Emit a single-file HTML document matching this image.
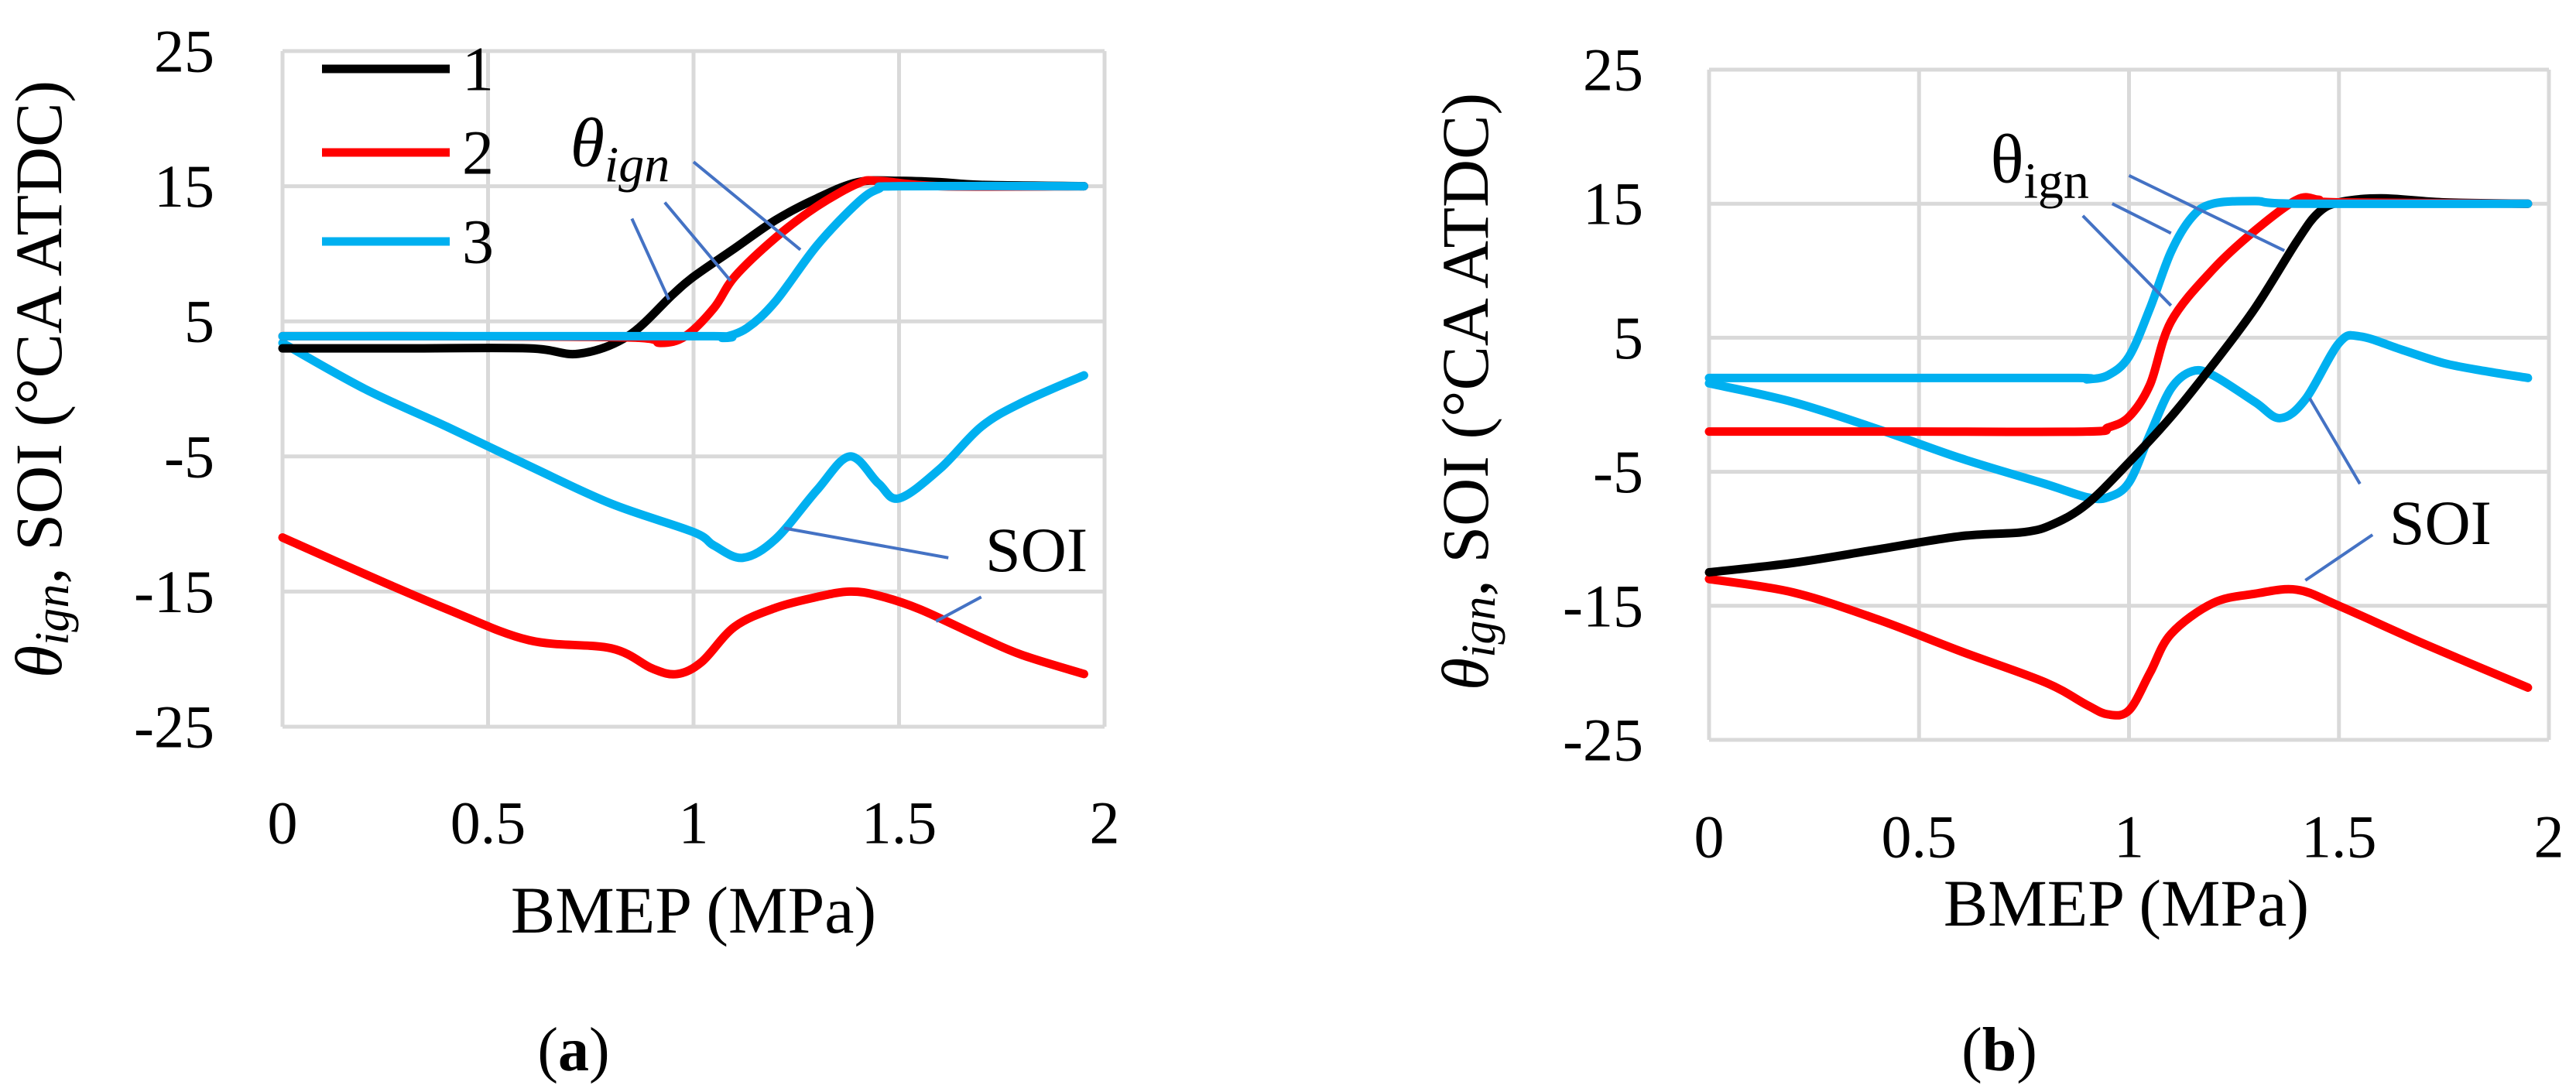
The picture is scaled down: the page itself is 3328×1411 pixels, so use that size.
<!DOCTYPE html>
<html><head><meta charset="utf-8">
<style>
html,body{margin:0;padding:0;background:#fff;}
svg{display:block;font-family:"Liberation Serif",serif;}
</style></head>
<body>
<svg id="fig" width="3328" height="1411" viewBox="0 0 3328 1411" xmlns="http://www.w3.org/2000/svg"></svg>
<script>
// ---------- data: panel (a) ----------
const aIgn1X=[0,0.3,0.6,0.72,0.84,0.95,1.0,1.1,1.2,1.3,1.4,1.5,1.6,1.7,1.95];
const aIgn1Y=[3,3,3,2.6,3.9,7,8.3,10.4,12.5,14.1,15.3,15.4,15.3,15.1,15];
const aIgn2X=[0,0.4,0.85,0.92,0.98,1.05,1.1,1.2,1.3,1.4,1.45,1.6,1.95];
const aIgn2Y=[3.9,3.9,3.8,3.4,3.9,6,8.3,11.2,13.5,15.2,15.4,15,15];
const aIgn3X=[0,0.5,1.05,1.07,1.13,1.2,1.3,1.4,1.45,1.5,1.95];
const aIgn3Y=[3.9,3.9,3.9,3.8,4.5,6.5,10.6,13.8,14.8,15,15];
const aSoi3X=[0,0.2,0.4,0.6,0.8,1.0,1.05,1.12,1.2,1.3,1.38,1.45,1.5,1.6,1.7,1.8,1.95];
const aSoi3Y=[3.4,0,-2.8,-5.7,-8.5,-10.6,-11.6,-12.5,-11.1,-7.5,-5,-7,-8.1,-5.9,-2.8,-1,1];
const aSoi2X=[0,0.2,0.4,0.6,0.8,0.9,0.96,1.02,1.1,1.2,1.3,1.38,1.45,1.55,1.7,1.8,1.95];
const aSoi2Y=[-11,-13.7,-16.3,-18.6,-19.2,-20.7,-21.1,-20.2,-17.6,-16.2,-15.4,-15,-15.3,-16.3,-18.4,-19.7,-21.1];
// ---------- data: panel (b) ----------
const bIgn1X=[0,0.2,0.4,0.6,0.75,0.82,0.9,1.0,1.1,1.2,1.3,1.4,1.45,1.5,1.6,1.75,1.95];
const bIgn1Y=[-12.5,-11.8,-10.8,-9.8,-9.5,-8.9,-7.4,-4.3,-0.9,3,7.2,12.2,14.3,15.1,15.4,15.1,15];
const bIgn2X=[0,0.5,0.9,0.95,1.0,1.05,1.1,1.2,1.3,1.4,1.45,1.5,1.95];
const bIgn2Y=[-2,-2,-2,-1.7,-0.9,1.5,6.2,10.1,13,15.3,15.3,15.1,15];
const bIgn3X=[0,0.5,0.88,0.9,0.95,1.0,1.05,1.1,1.15,1.2,1.3,1.4,1.95];
const bIgn3Y=[2,2,2,1.9,2.2,3.6,7.2,11.4,14,15,15.2,15,15];
const bSoi3X=[0,0.2,0.4,0.6,0.8,0.9,0.95,1.0,1.05,1.1,1.15,1.2,1.3,1.36,1.42,1.5,1.55,1.65,1.75,1.85,1.95];
const bSoi3Y=[1.6,0.2,-1.8,-4,-5.9,-6.9,-6.9,-5.8,-2.2,1.2,2.5,2.2,0.2,-1,0.4,4.6,5.1,4.1,3.1,2.5,2];
const bSoi2X=[0,0.2,0.4,0.6,0.8,0.9,0.95,1.0,1.05,1.1,1.2,1.3,1.4,1.5,1.7,1.95];
const bSoi2Y=[-13,-14,-16,-18.4,-20.7,-22.4,-23.1,-22.8,-20,-17.1,-14.8,-14.1,-13.8,-15,-17.8,-21.1];
// ---------- ticks ----------
const xTicks=[0,0.5,1,1.5,2];
const xTickLabels=["0","0.5","1","1.5","2"];
const yTicks=[25,15,5,-5,-15,-25];
const yTickLabels=["25","15","5","-5","-15","-25"];

const NS="http://www.w3.org/2000/svg";
const svg=document.getElementById('fig');
function mk(tag,attrs,parent){const e=document.createElementNS(NS,tag);for(const k in attrs)e.setAttribute(k,attrs[k]);(parent||svg).appendChild(e);return e;}
function smoothPath(pts){
  let d="M"+pts[0][0]+","+pts[0][1];
  for(let i=0;i<pts.length-1;i++){
    const p0=pts[i-1]||pts[i],p1=pts[i],p2=pts[i+1],p3=pts[i+2]||p2;
    const c1x=p1[0]+(p2[0]-p0[0])/6,c1y=p1[1]+(p2[1]-p0[1])/6;
    const c2x=p2[0]-(p3[0]-p1[0])/6,c2y=p2[1]-(p3[1]-p1[1])/6;
    d+=" C"+c1x+","+c1y+" "+c2x+","+c2y+" "+p2[0]+","+p2[1];
  }
  return d;
}
function panel(cfg){
  const g=mk('g',{});
  
  
  const sx=v=>cfg.x0+(cfg.x1-cfg.x0)*v/2;
  const sy=v=>cfg.y0+(cfg.y1-cfg.y0)*(25-v)/50;
  // grid
  xTicks.forEach((t,i)=>{
    const l=mk('line',{x1:sx(t),x2:sx(t),y1:cfg.y0,y2:cfg.y1,stroke:'#d9d9d9','stroke-width':5},g);
    
    
    const tx=mk('text',{x:sx(t),y:cfg.xLabY,'font-size':78,'text-anchor':'middle','dominant-baseline':'central'},g);
    tx.textContent=xTickLabels[i];
    
    
  });
  yTicks.forEach((t,i)=>{
    const l=mk('line',{x1:cfg.x0,x2:cfg.x1,y1:sy(t),y2:sy(t),stroke:'#d9d9d9','stroke-width':5},g);
    
    
    const tx=mk('text',{x:cfg.yLabX,y:sy(t),'font-size':78,'text-anchor':'end','dominant-baseline':'central'},g);
    tx.textContent=yTickLabels[i];
    
    
  });
  // series
  cfg.series.forEach(s=>{
    const pts=s.x.map((v,i)=>[sx(v),sy(s.y[i])]);
    const p=mk('path',{d:smoothPath(pts),fill:'none',stroke:s.c,'stroke-width':11,'stroke-linejoin':'round','stroke-linecap':'round'},g);
    
    
  });
  // annotation leaders (in data units)
  cfg.ann.forEach(a=>{
    const l=mk('line',{x1:sx(a[0]),y1:sy(a[1]),x2:sx(a[2]),y2:sy(a[3]),stroke:'#4472c4','stroke-width':4},g);
    
    
  });
  // axis titles
  const xt=mk('text',{x:cfg.xTitleX,y:cfg.xTitleY,'font-size':86,'text-anchor':'middle','dominant-baseline':'central'},g);
  xt.textContent="BMEP (MPa)";
  
  
  const yt=mk('text',{x:0,y:0,'font-size':86,'text-anchor':'middle','dominant-baseline':'central',transform:`translate(${cfg.yTitleX},${cfg.yTitleY}) rotate(-90)`},g);
  yt.innerHTML='<tspan font-style="italic">θ</tspan><tspan font-style="italic" font-size="62" dy="18">ign</tspan><tspan dy="-18">, SOI (°CA ATDC)</tspan>';
  
  
  const lab=mk('text',{x:cfg.capX,y:cfg.capY,'font-size':80,'text-anchor':'middle','dominant-baseline':'central'},g);
  lab.innerHTML='(<tspan font-weight="bold">'+cfg.cap+'</tspan>)';
  
  
  return {g,sx,sy};
}
const pa=panel({name:'chart-a',x0:365,x1:1427,y0:66,y1:939,yLabX:277,xLabY:1063,xTitleX:896,xTitleY:1176,yTitleX:50,yTitleY:490,capX:741,capY:1357,cap:'a',
 series:[{x:aSoi2X,y:aSoi2Y,c:'#ff0000',n:'soi-series-2'},{x:aSoi3X,y:aSoi3Y,c:'#00b0f0',n:'soi-series-3'},
 {x:aIgn1X,y:aIgn1Y,c:'#000000',n:'ign-series-1'},{x:aIgn2X,y:aIgn2Y,c:'#ff0000',n:'ign-series-2'},{x:aIgn3X,y:aIgn3Y,c:'#00b0f0',n:'ign-series-3'}],
 ann:[[0.85,12.6,0.94,6.6],[0.93,13.8,1.09,8.0],[1.0,16.8,1.26,10.3],[1.22,-10.3,1.62,-12.5],[1.70,-15.4,1.59,-17.2]]});
const pb=panel({name:'chart-b',x0:2208,x1:3293,y0:90,y1:956,yLabX:2123,xLabY:1081,xTitleX:2747,xTitleY:1167,yTitleX:1893,yTitleY:506,capX:2583,capY:1357,cap:'b',
 series:[{x:bSoi2X,y:bSoi2Y,c:'#ff0000',n:'soi-series-2'},{x:bSoi3X,y:bSoi3Y,c:'#00b0f0',n:'soi-series-3'},
 {x:bIgn1X,y:bIgn1Y,c:'#000000',n:'ign-series-1'},{x:bIgn2X,y:bIgn2Y,c:'#ff0000',n:'ign-series-2'},{x:bIgn3X,y:bIgn3Y,c:'#00b0f0',n:'ign-series-3'}],
 ann:[[0.89,14.1,1.10,7.4],[0.96,15.0,1.10,12.8],[1.00,17.1,1.37,11.5],[1.43,0.5,1.55,-5.9],[1.58,-9.7,1.42,-13.1]]});
// texts
function txt(x,y,html,size,name){const t=mk('text',{x:x,y:y,'font-size':size});t.innerHTML=html;return t;}
txt(pa.sx(0.70),pa.sy(16.5),'<tspan font-style="italic">θ</tspan><tspan font-style="italic" font-size="66" dy="20">ign</tspan>',90,'theta-ign-label');
txt(pa.sx(1.71),pa.sy(-13.5),'SOI',82,'soi-label');
txt(pb.sx(0.67),pb.sy(16.6),'θ<tspan font-size="66" dy="20">ign</tspan>',90,'theta-ign-label');
txt(pb.sx(1.62),pb.sy(-10.4),'SOI',82,'soi-label');
// legend (panel a)
const legC=['#000000','#ff0000','#00b0f0'],legL=['1','2','3'],legY=[77,185,300];
legL.forEach((l,i)=>{
  const ln=mk('line',{x1:416,x2:581,y1:legY[i]+12,y2:legY[i]+12,stroke:legC[i],'stroke-width':11});
  
  
  const t=mk('text',{x:597,y:legY[i]+12,'font-size':82,'dominant-baseline':'central'});
  t.textContent=l;
  
  
});
</script>
</body></html>
